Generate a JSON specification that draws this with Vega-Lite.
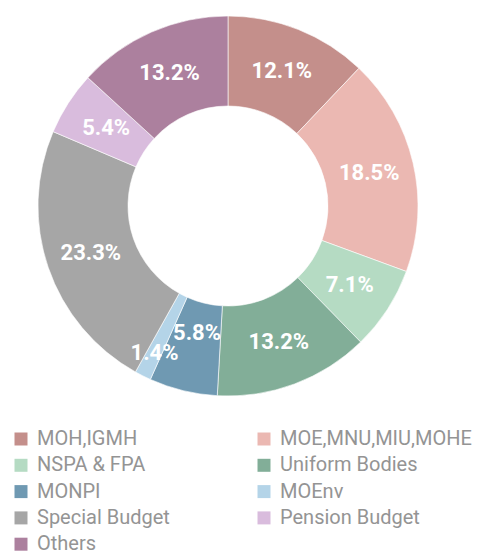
{
  "$schema": "https://vega.github.io/schema/vega-lite/v6.json",
  "width": 456,
  "height": 412,
  "autosize": {"type": "none"},
  "padding": {"left": 0, "top": 0, "right": 30, "bottom": 142},
  "background": "white",
  "data": {
    "values": [
      {"idx": 1, "category": "MOH,IGMH", "share": 0.121},
      {"idx": 2, "category": "MOE,MNU,MIU,MOHE", "share": 0.185},
      {"idx": 3, "category": "NSPA & FPA", "share": 0.071},
      {"idx": 4, "category": "Uniform Bodies", "share": 0.132},
      {"idx": 5, "category": "MONPI", "share": 0.058},
      {"idx": 6, "category": "MOEnv", "share": 0.014},
      {"idx": 7, "category": "Special Budget", "share": 0.233},
      {"idx": 8, "category": "Pension Budget", "share": 0.054},
      {"idx": 9, "category": "Others", "share": 0.132}
    ]
  },
  "encoding": {
    "theta": {"field": "share", "type": "quantitative", "stack": true},
    "order": {"field": "idx", "type": "quantitative", "sort": "ascending"},
    "color": {
      "field": "category",
      "type": "nominal",
      "sort": null,
      "scale": {
        "domain": ["MOH,IGMH", "MOE,MNU,MIU,MOHE", "NSPA & FPA", "Uniform Bodies", "MONPI", "MOEnv", "Special Budget", "Pension Budget", "Others"],
        "range": ["#c48f8b", "#ebb8b2", "#b5dbc3", "#82ae98", "#6f99b2", "#b4d4e8", "#a6a6a6", "#d9bcdd", "#ac809e"]
      },
      "legend": {
        "orient": "none",
        "legendX": 11,
        "legendY": 429,
        "title": null,
        "columns": 2,
        "direction": "horizontal",
        "symbolType": "square",
        "symbolSize": 169,
        "symbolStrokeWidth": 0,
        "labelFont": "Roboto",
        "labelFontSize": 20,
        "labelColor": "#949494",
        "labelOffset": 6,
        "labelLimit": 300,
        "rowPadding": 6.3,
        "columnPadding": 84
      }
    }
  },
  "layer": [
    {
      "mark": {"type": "arc", "innerRadius": 100, "outerRadius": 190, "stroke": "white", "strokeWidth": 0.6}
    },
    {
      "mark": {"type": "text", "radius": 145, "font": "Roboto", "fontSize": 22, "fontWeight": "bold", "fill": "white"},
      "encoding": {
        "text": {"condition": {"test": "datum.category !== 'MOEnv' && datum.category !== 'MONPI'", "field": "share", "type": "quantitative", "format": ".1%"}, "value": ""},
        "color": {"value": "white"}
      }
    },
    {
      "mark": {"type": "text", "radius": 131, "font": "Roboto", "fontSize": 22, "fontWeight": "bold", "fill": "white"},
      "encoding": {
        "text": {"condition": {"test": "datum.category === 'MONPI'", "field": "share", "type": "quantitative", "format": ".1%"}, "value": ""},
        "color": {"value": "white"}
      }
    },
    {
      "mark": {"type": "text", "radius": 164, "font": "Roboto", "fontSize": 22, "fontWeight": "bold", "fill": "white"},
      "encoding": {
        "text": {"condition": {"test": "datum.category === 'MOEnv'", "field": "share", "type": "quantitative", "format": ".1%"}, "value": ""},
        "color": {"value": "white"}
      }
    }
  ]
}
